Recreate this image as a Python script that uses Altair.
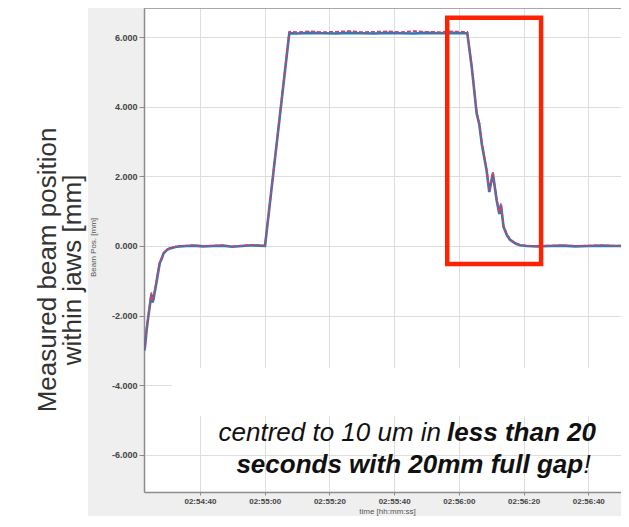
import altair as alt
import pandas as pd

# time in seconds after 02:54:00
time_s = [22.8, 23.0, 23.5, 24.0, 24.5, 25.0, 25.3, 25.6, 26.1, 26.6, 27.1, 27.6, 28.2, 28.7,
          29.7, 30.7, 31.8, 32.8, 33.8, 35.9, 38.0, 41.0, 44.0, 47.0, 50.0, 53.0, 56.0, 58.0,
          60.1, 67.6, 70.0, 74.0, 78.0, 82.0, 86.0, 90.0, 94.0, 98.0, 102.0, 106.0, 110.0,
          114.0, 118.0, 121.0, 122.6, 124.0, 125.5, 126.3, 127.1, 128.6, 129.4, 130.5, 131.7,
          132.5, 133.0, 133.8, 134.8, 135.8, 137.5, 138.9, 141.0, 144.1, 148.0, 152.0, 156.0,
          160.0, 164.0, 168.0, 170.1]

blue_mm = [-3.00, -2.90, -2.42, -2.05, -1.72, -1.38, -1.62, -1.55, -1.28, -1.02, -0.74, -0.48,
           -0.36, -0.22, -0.12, -0.07, -0.04, -0.02, -0.01, 0.00,
           0.01, -0.01, 0.00, 0.01, -0.02, 0.00, 0.02, 0.01, 0.00,
           6.11, 6.10, 6.12, 6.11, 6.10, 6.12, 6.11, 6.10, 6.12, 6.11, 6.10, 6.12, 6.11, 6.12,
           6.11, 6.11,
           5.12, 3.80, 3.50, 2.92, 2.15, 1.55, 2.08, 1.30, 0.92, 1.18, 0.55, 0.32, 0.18, 0.07,
           0.02, 0.00, -0.01, 0.00, 0.01, -0.01, 0.00, 0.01, 0.00, 0.00]

red_mm = [-2.95, -2.85, -2.36, -2.00, -1.68, -1.33, -1.58, -1.50, -1.24, -0.98, -0.70, -0.45,
          -0.33, -0.20, -0.10, -0.06, -0.03, -0.01, 0.00, 0.01,
          0.02, 0.00, 0.01, 0.02, -0.01, 0.01, 0.03, 0.02, 0.01,
          6.15, 6.14, 6.16, 6.14, 6.15, 6.17, 6.14, 6.15, 6.16, 6.14, 6.17, 6.15, 6.14, 6.16,
          6.15, 6.15,
          5.14, 3.83, 3.54, 2.95, 2.18, 1.58, 2.12, 1.33, 0.95, 1.22, 0.57, 0.34, 0.19, 0.08,
          0.03, 0.01, 0.00, 0.01, 0.02, 0.00, 0.01, 0.02, 0.01, 0.01]

x_tick_values = [40, 60, 80, 100, 120, 140, 160]
x_tick_labels = ["02:54:40", "02:55:00", "02:55:20", "02:55:40", "02:56:00", "02:56:20", "02:56:40"]
y_tick_values = [-6, -4, -2, 0, 2, 4, 6]

x_domain = [22.7, 170.1]
y_domain = [-7.063, 6.833]

# annotations (data coordinates)
box_t = [116.4, 145.4]
box_mm = [-0.52, 6.55]
patch_t = [31.3, 170.0]
patch_mm = [-3.50, -4.88]

line1_y = -5.60
line2_y = -6.52
seg_text = ["centred to 10 um in", "less than 20", "seconds with 20mm full gap", "!"]
seg_t = [114.5, 116.35, 158.4, 158.5]
seg_y = [line1_y, line1_y, line2_y, line2_y]
seg_weight = ["normal", "bold", "bold", "normal"]
seg_align = ["right", "left", "right", "left"]

big_label = ["Measured beam position", "within jaws [mm]"]

W, H = 477, 484
df = pd.DataFrame({"t": time_s, "blue": blue_mm, "red": red_mm})
one = pd.DataFrame({"a": [0]})

xs = alt.Scale(domain=x_domain, nice=False, zero=False)
ys = alt.Scale(domain=y_domain, nice=False, zero=False)

label_expr = "[" + ",".join("'%s'" % s for s in x_tick_labels) + "][(datum.value-40)/20]"

x_axis = alt.Axis(values=x_tick_values, labelExpr=label_expr, title="time [hh:mm:ss]",
                  grid=True, gridColor="#dedede", gridWidth=1,
                  domainColor="#8c8c8c", domainWidth=1.5, tickColor="#8c8c8c", tickSize=3,
                  labelFont="Liberation Sans", labelFontSize=8, labelFontWeight="bold",
                  labelColor="#444", labelPadding=2,
                  titleFont="Liberation Sans", titleFontSize=8, titleFontWeight="normal",
                  titleColor="#555", titleX=243, titleY=19, titleBaseline="middle")
y_axis = alt.Axis(values=y_tick_values,
                  labelExpr="replace(format(datum.value, '.3f'), '\u2212', '-')",
                  title="Beam Pos. [mm]", grid=True, gridColor="#dedede", gridWidth=1,
                  domainColor="#8c8c8c", domainWidth=1.5, tickColor="#8c8c8c", tickSize=5,
                  labelFont="Liberation Sans", labelFontSize=9, labelFontWeight="bold",
                  labelColor="#444", labelPadding=2,
                  titleFont="Liberation Sans", titleFontSize=8, titleFontWeight="normal",
                  titleColor="#555", titleX=-51, titleY=239, titleAngle=270,
                  titleAlign="center", titleBaseline="middle")

blue_line = alt.Chart(df).mark_line(color="#2b7bba", strokeWidth=2.6, clip=True).encode(
    x=alt.X("t:Q", scale=xs, axis=x_axis),
    y=alt.Y("blue:Q", scale=ys, axis=y_axis))

white_strip = alt.Chart(one).mark_rect(fill="white").encode(
    x=alt.value(-136), x2=alt.value(-56), y=alt.value(0), y2=alt.value(H + 30))

patch = alt.Chart(pd.DataFrame({"t0": [patch_t[0]], "t1": [patch_t[1]],
                                "m0": [patch_mm[0]], "m1": [patch_mm[1]]})).mark_rect(
    fill="white").encode(
    x=alt.X("t0:Q", scale=xs), x2="t1:Q",
    y=alt.Y("m0:Q", scale=ys), y2="m1:Q")

red_line = alt.Chart(df).mark_line(color="#c4476a", strokeWidth=1.8, strokeDash=[4, 2],
                                    clip=True).encode(
    x=alt.X("t:Q", scale=xs),
    y=alt.Y("red:Q", scale=ys))

top_rule = alt.Chart(one).mark_rule(color="#8c8c8c", strokeWidth=1.5).encode(
    x=alt.value(0), x2=alt.value(W), y=alt.value(0))

red_box = alt.Chart(pd.DataFrame({"t0": [box_t[0]], "t1": [box_t[1]],
                                  "m0": [box_mm[0]], "m1": [box_mm[1]]})).mark_rect(
    filled=False, stroke="#ff2200", strokeWidth=4.5).encode(
    x=alt.X("t0:Q", scale=xs), x2="t1:Q",
    y=alt.Y("m0:Q", scale=ys), y2="m1:Q")

texts = []
for txt, t, yv, wt, al in zip(seg_text, seg_t, seg_y, seg_weight, seg_align):
    texts.append(
        alt.Chart(pd.DataFrame({"t": [t], "mm": [yv], "txt": [txt]})).mark_text(
            font="Liberation Sans", fontSize=26, fontStyle="italic", fontWeight=wt,
            align=al, baseline="alphabetic", color="#111").encode(
            x=alt.X("t:Q", scale=xs),
            y=alt.Y("mm:Q", scale=ys),
            text="txt:N"))

big = alt.Chart(one).mark_text(text=big_label, font="Liberation Sans", fontSize=26,
                               lineHeight=25, angle=270, align="center",
                               baseline="middle", color="#333").encode(
    x=alt.value(-96), y=alt.value(262))

chart = alt.layer(blue_line, white_strip, patch, red_line, top_rule, red_box, *texts, big).properties(
    width=W, height=H,
    autosize=alt.AutoSizeParams(type="none"),
    padding={"left": 136, "top": 0, "right": 0, "bottom": 24},
    background="#efefef",
).configure_view(fill="white", stroke=None)

chart.save("out.html", embed_options={"renderer": "svg", "actions": False})
